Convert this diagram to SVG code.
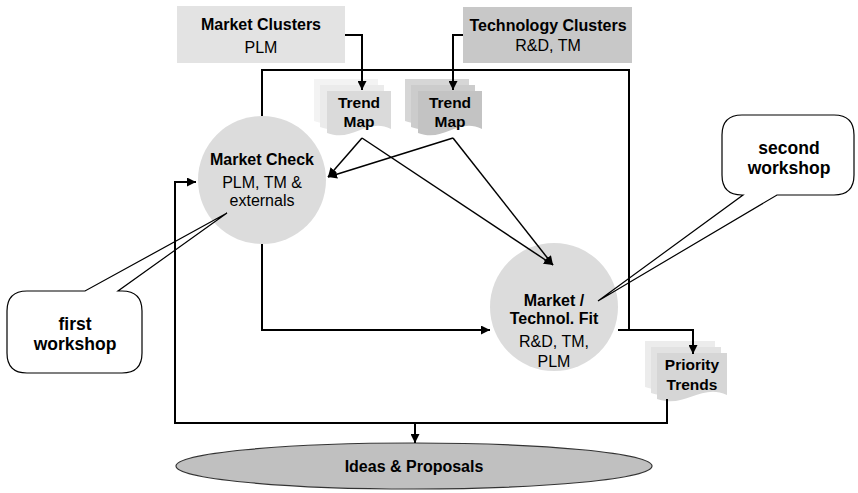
<svg xmlns="http://www.w3.org/2000/svg" width="858" height="493" viewBox="0 0 858 493">
<defs>
<marker id="ah" viewBox="0 0 10 10" refX="10" refY="5" markerWidth="9" markerHeight="9" markerUnits="userSpaceOnUse" orient="auto"><path d="M0,0 L10,5 L0,10 Z" fill="#000"/></marker>
<path id="doc" d="M0,0 H64 V38 C40,26 26,52 0,42 Z"/>
<path id="doc2" d="M0,0 H70 V42 C44,30 28,56 0,46 Z"/>
</defs>
<style>
text{font-family:"Liberation Sans",Arial,sans-serif;font-size:15.5px;fill:#000;text-anchor:middle}
.b{font-weight:bold}
.h{font-size:16px}
.w{font-size:17.5px;font-weight:bold}
.ln{fill:none;stroke:#000;stroke-width:2}
.dg{fill:none;stroke:#000;stroke-width:1.5}
.co{fill:#fff;stroke:#000;stroke-width:1.2}
</style>
<rect width="858" height="493" fill="#fff"/>
<g id="market-clusters">
<rect x="177" y="6" width="168" height="57" fill="#e3e3e3"/>
<text class="b h" x="261" y="30">Market Clusters</text>
<text class="h" x="261" y="53">PLM</text>
</g>
<g id="technology-clusters">
<rect x="463" y="7" width="169" height="56" fill="#c8c8c8"/>
<text class="b h" x="548" y="31">Technology Clusters</text>
<text class="h" x="548" y="51">R&amp;D, TM</text>
</g>
<g id="trend-map-1">
<use href="#doc" x="314" y="79" fill="#f3f3f3"/>
<use href="#doc" x="320" y="85" fill="#ebebeb"/>
<use href="#doc" x="327" y="91" fill="#dadada"/>
<text class="b" x="359" y="108">Trend</text>
<text class="b" x="359" y="127">Map</text>
</g>
<g id="trend-map-2">
<use href="#doc" x="405" y="79" fill="#d6d6d6"/>
<use href="#doc" x="411" y="85" fill="#cccccc"/>
<use href="#doc" x="418" y="91" fill="#c3c3c3"/>
<text class="b" x="450" y="108">Trend</text>
<text class="b" x="450" y="127">Map</text>
</g>
<g id="market-check">
<circle cx="262" cy="180" r="64" fill="#dcdcdc"/>
<text class="b h" x="262" y="165">Market Check</text>
<text class="h" x="262" y="188">PLM, TM &amp;</text>
<text class="h" x="262" y="206">externals</text>
</g>
<g id="market-technol-fit">
<circle cx="554" cy="307" r="64" fill="#dcdcdc"/>
<text class="b h" x="554" y="306">Market /</text>
<text class="b h" x="554" y="324">Technol. Fit</text>
<text class="h" x="554" y="347">R&amp;D, TM,</text>
<text class="h" x="554" y="367">PLM</text>
</g>
<g id="priority-trends">
<use href="#doc2" x="645" y="341" fill="#ececec"/>
<use href="#doc2" x="651" y="347" fill="#e2e2e2"/>
<use href="#doc2" x="657" y="353" fill="#d6d6d6"/>
<text class="b" x="692" y="370">Priority</text>
<text class="b" x="692" y="390">Trends</text>
</g>
<g id="ideas-proposals">
<ellipse cx="414" cy="466" rx="238" ry="23" fill="#c0c0c0" stroke="#333" stroke-width="1.2"/>
<text class="b h" x="414" y="472">Ideas &amp; Proposals</text>
</g>
<g id="first-workshop">
<path class="co" d="M27,291 H85 L227,213 L118,291 H122 Q142,291 142,311 V353 Q142,373 122,373 H27 Q7,373 7,353 V311 Q7,291 27,291 Z"/>
<text class="w" x="75" y="330">first</text>
<text class="w" x="75" y="350">workshop</text>
</g>
<g id="second-workshop">
<path class="co" d="M742,115 H834 Q854,115 854,135 V175 Q854,195 834,195 H777 L598,301 L743,195 H742 Q722,195 722,175 V135 Q722,115 742,115 Z"/>
<text class="w" x="789" y="154">second</text>
<text class="w" x="789" y="174">workshop</text>
</g>
<g id="connectors">
<path class="ln" d="M345,35 H362 V90" marker-end="url(#ah)"/>
<path class="ln" d="M463,35 H453 V90" marker-end="url(#ah)"/>
<path class="ln" d="M262,116 V70 H629 V330"/>
<path class="ln" d="M262,244 V330 H490" marker-end="url(#ah)"/>
<path class="ln" d="M618,330 H693 V354" marker-end="url(#ah)"/>
<path class="ln" d="M667,399 V423 H175 V182 H196" marker-end="url(#ah)"/>
<path class="ln" d="M415,423 V443" marker-end="url(#ah)"/>
<path class="dg" d="M362,138 L328,177" marker-end="url(#ah)"/>
<path class="dg" d="M362,138 L553,265" marker-end="url(#ah)"/>
<path class="dg" d="M453,138 L328,177" marker-end="url(#ah)"/>
<path class="dg" d="M453,138 L553,265" marker-end="url(#ah)"/>
</g>
</svg>
